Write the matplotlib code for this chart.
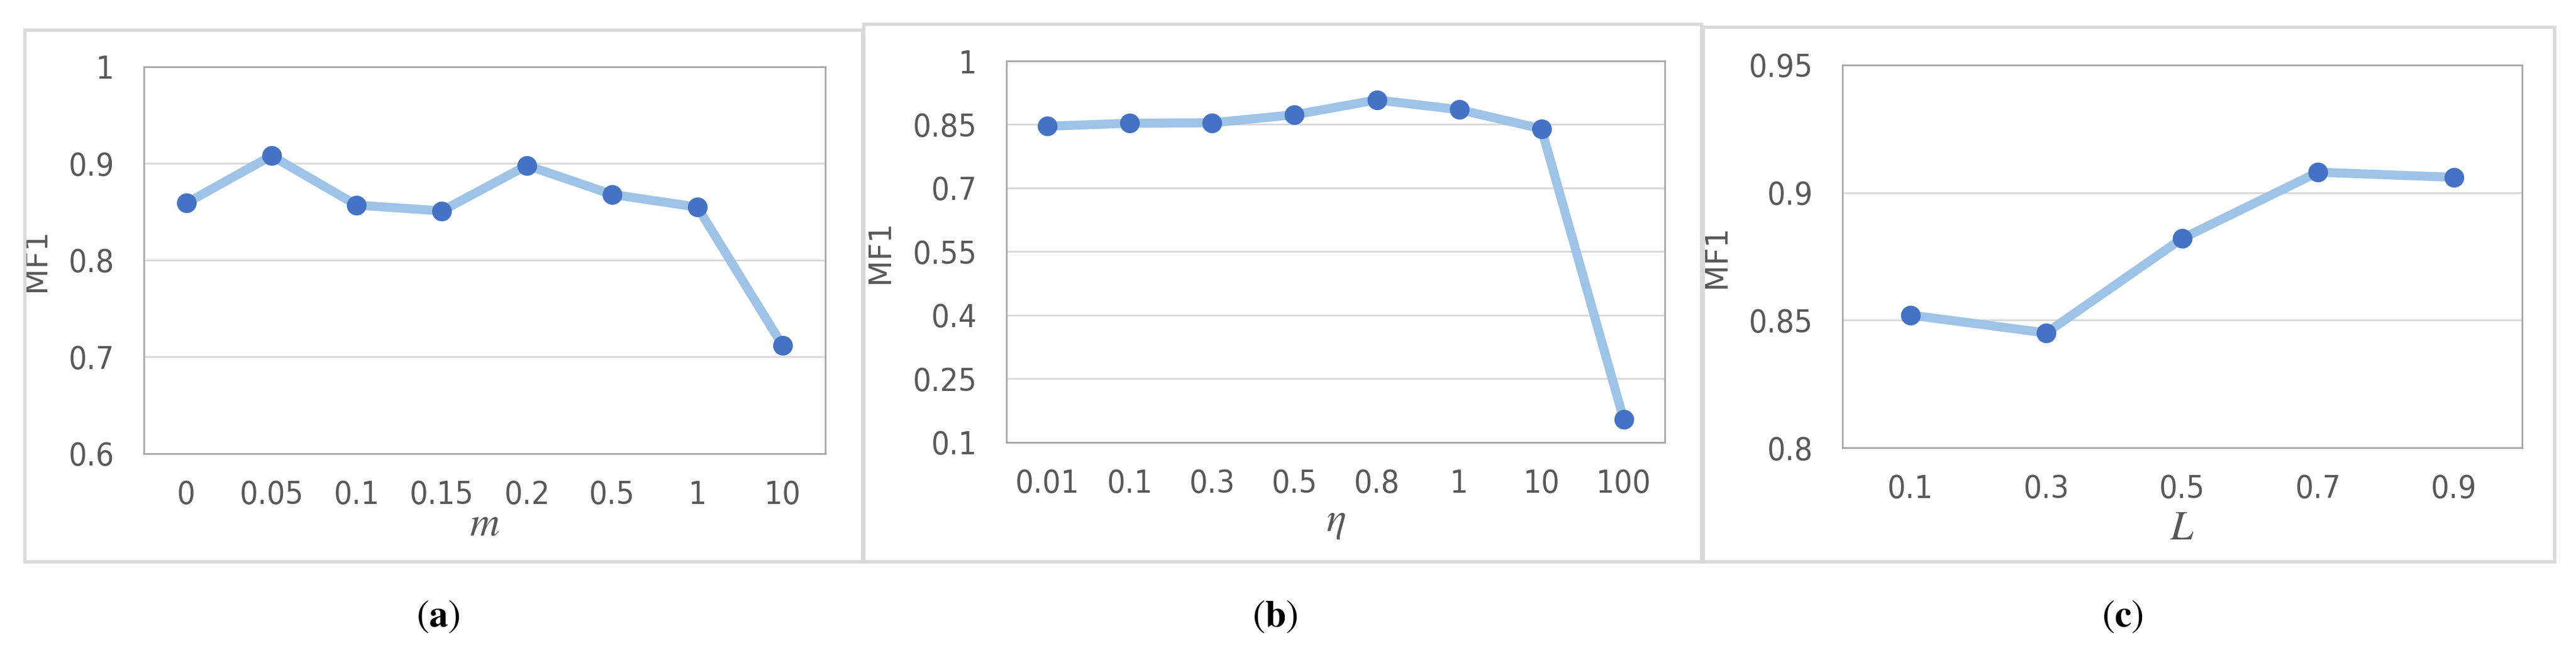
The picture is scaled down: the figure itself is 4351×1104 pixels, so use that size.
import matplotlib
matplotlib.use('Agg')
import matplotlib.pyplot as plt
from matplotlib.patches import Rectangle

# Panel (a): m
m_labels = ['0', '0.05', '0.1', '0.15', '0.2', '0.5', '1', '10']
m_mf1 = [0.859, 0.908, 0.857, 0.851, 0.898, 0.868, 0.855, 0.712]

# Panel (b): eta
eta_labels = ['0.01', '0.1', '0.3', '0.5', '0.8', '1', '10', '100']
eta_mf1 = [0.846, 0.853, 0.854, 0.873, 0.908, 0.885, 0.840, 0.154]

# Panel (c): L
l_labels = ['0.1', '0.3', '0.5', '0.7', '0.9']
l_mf1 = [0.852, 0.845, 0.882, 0.908, 0.906]

line_color = '#9DC3E6'
marker_color = '#4472C4'
text_gray = '#595959'

plt.rcParams['font.family'] = ['DejaVu Sans']
plt.rcParams['font.stretch'] = 'condensed'
plt.rcParams['mathtext.fontset'] = 'stix'

fig = plt.figure(figsize=(43.51, 11.04), dpi=100)

# outer chart boxes (figure coords)
boxes = [(0.0097, 0.1395, 0.3252, 0.8143),
         (0.3353, 0.1395, 0.3252, 0.8234),
         (0.6612, 0.1395, 0.3305, 0.8188)]
for b in boxes:
    fig.add_artist(Rectangle(b[:2], b[2], b[3], transform=fig.transFigure,
                             fill=False, edgecolor='#D9D9D9', linewidth=4))

panels = [
    dict(pos=[0.0558, 0.3053, 0.2645, 0.5924], labels=m_labels, vals=m_mf1,
         ylim=(0.6, 1.0), yticks=[0.6, 0.7, 0.8, 0.9, 1.0],
         yticklabels=['0.6', '0.7', '0.8', '0.9', '1'],
         xlabel='$m$', ylab_x=-0.135, xlab_y=-0.182, cap='a', cap_x=0.170),
    dict(pos=[0.3907, 0.3225, 0.2556, 0.5842], labels=eta_labels, vals=eta_mf1,
         ylim=(0.1, 1.0), yticks=[0.1, 0.25, 0.4, 0.55, 0.7, 0.85, 1.0],
         yticklabels=['0.1', '0.25', '0.4', '0.55', '0.7', '0.85', '1'],
         xlabel=r'$\eta$', ylab_x=-0.169, xlab_y=-0.205, cap='b', cap_x=0.495),
    dict(pos=[0.7152, 0.3143, 0.2638, 0.5861], labels=l_labels, vals=l_mf1,
         ylim=(0.8, 0.95), yticks=[0.8, 0.85, 0.9, 0.95],
         yticklabels=['0.8', '0.85', '0.9', '0.95'],
         xlabel='$L$', ylab_x=-0.163, xlab_y=-0.21, cap='c', cap_x=0.824),
]

for p in panels:
    ax = fig.add_axes(p['pos'])
    x = list(range(len(p['labels'])))
    ax.plot(x, p['vals'], color=line_color, linewidth=11, solid_capstyle='butt',
            marker='o', markersize=23, markerfacecolor=marker_color,
            markeredgecolor=marker_color, zorder=3)
    ax.set_xlim(-0.5, len(x) - 0.5)
    ax.set_ylim(*p['ylim'])
    ax.set_xticks(x)
    ax.set_xticklabels(p['labels'])
    ax.set_yticks(p['yticks'])
    ax.set_yticklabels(p['yticklabels'])
    ax.tick_params(length=0, labelsize=39, labelcolor=text_gray)
    ax.tick_params(axis='x', pad=32)
    ax.tick_params(axis='y', pad=36)
    ax.yaxis.grid(True, color='#D9D9D9', linewidth=2.2)
    ax.set_axisbelow(True)
    for s in ax.spines.values():
        s.set_color('#A6A6A6')
        s.set_linewidth(2)
    ax.set_ylabel('MF1', fontsize=37, color=text_gray, fontstretch='normal')
    ax.yaxis.set_label_coords(p['ylab_x'], 0.5)
    ax.set_xlabel(p['xlabel'], fontsize=50, color=text_gray)
    ax.xaxis.label.set_va('center')
    ax.xaxis.set_label_coords(0.5, p['xlab_y'])
    fig.text(p['cap_x'], 0.056, r'$(\mathbf{%s})$' % p['cap'], fontsize=46,
             ha='center', va='center', color='black')

plt.savefig('out.png', dpi=100)
